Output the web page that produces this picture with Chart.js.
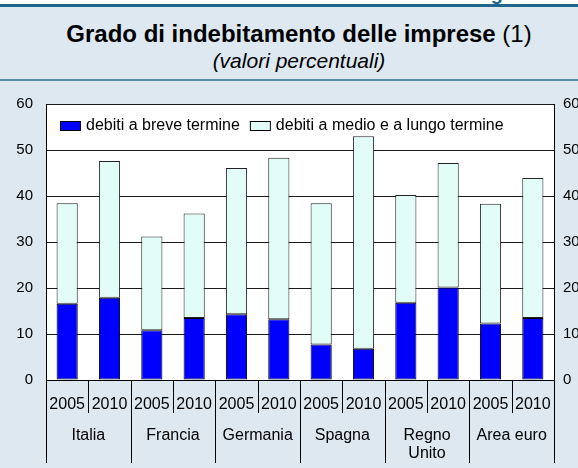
<!DOCTYPE html>
<html>
<head>
<meta charset="utf-8">
<script src="https://cdn.jsdelivr.net/npm/chart.js@4.4.1/dist/chart.umd.min.js"></script>
<style>
    html, body { margin: 0; padding: 0; }
    body { width: 578px; height: 468px; overflow: hidden; position: relative; background: #dde8f1; font-family: "Liberation Sans", Arial, sans-serif; }
    #whiteTop { position: absolute; left: 0; top: 0; width: 578px; height: 4px; background: #fff; overflow: hidden; }
    #ref { position: absolute; left: 473px; top: -17px; font-size: 20px; line-height: 20px; font-weight: bold; color: #1d6489; white-space: nowrap; }
    #lineTop { position: absolute; left: 0; top: 4px; width: 578px; height: 3px; background: #1f668b; }
    #lineBottom { position: absolute; left: 0; top: 79px; width: 578px; height: 2px; background: #5b8bab; }
    #title { position: absolute; left: 0; top: 22px; width: 558px; padding-left: 20px; text-align: center; font-size: 24px; line-height: 24px; color: #000; white-space: nowrap; }
    #title b { font-weight: bold; }
    #subtitle { position: absolute; left: 0; top: 50px; width: 558px; padding-left: 20px; text-align: center; font-size: 21px; line-height: 21px; font-style: italic; color: #000; white-space: nowrap; }
    #chartBox { position: absolute; left: 0; top: 82px; width: 590px; height: 386px; }
</style>
</head>
<body>
<div id="whiteTop"><div id="ref">Figura</div></div>
<div id="lineTop"></div>
<div id="title"><b>Grado di indebitamento delle imprese</b> (1)</div>
<div id="subtitle">(valori percentuali)</div>
<div id="lineBottom"></div>
<div id="chartBox"><canvas id="myChart" width="590" height="386"></canvas></div>

<script>
// dati
const countries = ['Italia', 'Francia', 'Germania', 'Spagna', ['Regno', 'Unito'], 'Area euro'];
const years = ['2005', '2010'];
const breveTermine = [16.6, 17.9, 10.8, 13.5, 14.3, 13.2, 7.7, 6.8, 16.8, 20.1, 12.3, 13.5];
const medioLungoTermine = [21.8, 29.7, 20.4, 22.7, 31.8, 35.1, 30.7, 46.2, 23.4, 27.1, 26.0, 30.4];
const seriesNames = ['debiti a breve termine', 'debiti a medio e a lungo termine'];
const yMax = 60;
const yStep = 10;

const FONT = '"Liberation Sans", Arial, sans-serif';
const BLUE = '#0000ff';
const CYAN = '#e2fdf8';

document.addEventListener("DOMContentLoaded", function () {

    const labels = [];
    countries.forEach(function () {
        years.forEach(function (y) { labels.push(y); });
    });

    // sfondo bianco, separatori, nomi dei paesi e legenda
    const groupsPlugin = {
        id: 'groups',
        beforeDraw(chart) {
            const ca = chart.chartArea;
            const ctx = chart.ctx;
            ctx.save();
            ctx.fillStyle = '#fff';
            ctx.fillRect(ca.left, ca.top, ca.right - ca.left, ca.bottom - ca.top);
            ctx.restore();
        },
        afterDraw(chart) {
            const ctx = chart.ctx;
            const ca = chart.chartArea;
            const x = chart.scales.x;
            const n = labels.length;

            ctx.save();
            ctx.strokeStyle = '#000';
            ctx.lineWidth = 1;
            for (let i = 0; i <= n; i++) {
                let px;
                if (i === 0) px = ca.left;
                else if (i === n) px = ca.right;
                else px = (x.getPixelForValue(i - 1) + x.getPixelForValue(i)) / 2;
                px = Math.round(px) + 0.5;
                const bottom = (i % years.length === 0) ? ca.bottom + 83 : ca.bottom + 33;
                ctx.beginPath();
                ctx.moveTo(px, ca.bottom);
                ctx.lineTo(px, bottom);
                ctx.stroke();
            }

            ctx.fillStyle = '#000';
            ctx.font = '16px ' + FONT;
            ctx.textAlign = 'center';
            ctx.textBaseline = 'middle';
            countries.forEach(function (c, k) {
                const a = x.getPixelForValue(k * years.length);
                const b = x.getPixelForValue(k * years.length + years.length - 1);
                const cx = (a + b) / 2;
                const lines = Array.isArray(c) ? c : [c];
                lines.forEach(function (t, j) {
                    ctx.fillText(t, cx, ca.bottom + 56 + j * 18);
                });
            });

            // legenda
            const colors = [BLUE, CYAN];
            let lx = ca.left + 14;
            const ly = ca.top + 22;
            ctx.textAlign = 'left';
            seriesNames.forEach(function (name, k) {
                ctx.fillStyle = colors[k];
                ctx.fillRect(lx, ly - 5, 21, 10);
                ctx.strokeStyle = '#000';
                ctx.strokeRect(lx + 0.5, ly - 4.5, 20, 9);
                ctx.fillStyle = '#000';
                ctx.fillText(name, lx + 26, ly);
                lx += 26 + ctx.measureText(name).width + 10;
            });
            ctx.restore();
        }
    };

    const ctx = document.getElementById('myChart').getContext('2d');
    const chart = new Chart(ctx, {
        type: 'bar',
        data: {
            labels: labels,
            datasets: [{
                label: seriesNames[0],
                data: breveTermine,
                backgroundColor: BLUE,
                borderColor: '#000',
                borderWidth: 1,
                borderSkipped: false
            }, {
                label: seriesNames[1],
                data: medioLungoTermine,
                backgroundColor: CYAN,
                borderColor: '#222',
                borderWidth: 1,
                borderSkipped: false
            }]
        },
        options: {
            responsive: false,
            animation: false,
            layout: { padding: { top: 18, left: 0, right: 0, bottom: 0 } },
            datasets: { bar: { barPercentage: 0.5, categoryPercentage: 1 } },
            plugins: {
                legend: { display: false },
                tooltip: { enabled: false }
            },
            scales: {
                x: {
                    stacked: true,
                    grid: { display: false, drawTicks: false },
                    border: { display: true, color: '#000', width: 1 },
                    ticks: { color: '#000', font: { family: FONT, size: 16 }, padding: 15, maxRotation: 0, autoSkip: false },
                    afterFit: function (s) { s.height = 88; }
                },
                y: {
                    stacked: true,
                    min: 0,
                    max: yMax,
                    position: 'left',
                    grid: { color: '#1a1a1a', lineWidth: 1, drawTicks: false },
                    border: { display: true, color: '#000', width: 1 },
                    ticks: { stepSize: yStep, color: '#000', font: { family: FONT, size: 15 }, padding: 13 },
                    afterFit: function (s) { s.width = 46; }
                },
                y2: {
                    min: 0,
                    max: yMax,
                    position: 'right',
                    grid: { display: false, drawTicks: false },
                    border: { display: true, color: '#000', width: 1 },
                    ticks: { stepSize: yStep, color: '#000', font: { family: FONT, size: 15 }, padding: 9 },
                    afterFit: function (s) { s.width = 36; }
                }
            }
        },
        plugins: [groupsPlugin]
    });
});
</script>
</body>
</html>
